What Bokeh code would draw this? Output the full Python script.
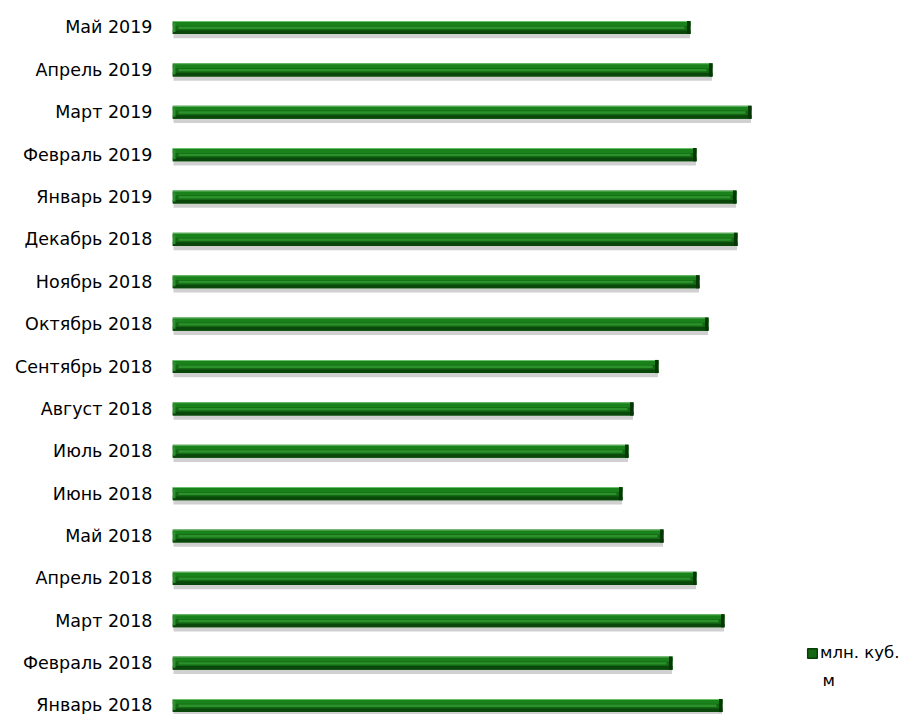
from bokeh.plotting import figure
from bokeh.models import Legend, LegendItem, FixedTicker, Range1d, Label
from bokeh.embed import file_html
from bokeh.resources import INLINE

months = ["Январь 2018", "Февраль 2018", "Март 2018", "Апрель 2018", "Май 2018",
          "Июнь 2018", "Июль 2018", "Август 2018", "Сентябрь 2018", "Октябрь 2018",
          "Ноябрь 2018", "Декабрь 2018", "Январь 2019", "Февраль 2019", "Март 2019",
          "Апрель 2019", "Май 2019"]
values = [55.0, 50.0, 55.2, 52.4, 49.1, 45.0, 45.6, 46.1, 48.6, 53.6,
          52.7, 56.5, 56.4, 52.4, 57.9, 54.0, 51.8]
series_line1 = "млн. куб."
series_line2 = "м"

pos = list(range(len(months)))

p = figure(width=900, height=714, output_backend="svg", toolbar_location=None,
           x_range=Range1d(0, 72.8), y_range=Range1d(-0.212, 16.637),
           min_border_left=172, min_border_right=0, min_border_top=0, min_border_bottom=0)
p.outline_line_color = None
p.xgrid.visible = False
p.ygrid.visible = False
p.xaxis.visible = False

h = 0.31
# shadow
p.hbar(y=[y - 0.1 for y in pos], left=0.1, right=[v - 0.05 for v in values], height=h,
       fill_color="#8a8a8a", fill_alpha=0.4, line_color=None)
# base
base = p.hbar(y=pos, left=0, right=values, height=h, fill_color="#146814", line_color=None)
# lower dark edge
p.hbar(y=[y - h * 0.36 for y in pos], left=0, right=values, height=h * 0.28,
       fill_color="#0a470a", line_color=None)
# upper bright band
p.hbar(y=[y + h * 0.28 for y in pos], left=0, right=values, height=h * 0.3,
       fill_color="#1a821a", line_color=None)
# middle highlight stripe
p.hbar(y=[y - h * 0.02 for y in pos], left=0.6, right=[v - 0.6 for v in values], height=h * 0.18,
       fill_color="#2b922b", line_color=None)
# top thin light edge
p.hbar(y=[y + h * 0.46 for y in pos], left=0, right=values, height=h * 0.08,
       fill_color="#6cbf6c", line_color=None)
# right bevel end
p.hbar(y=pos, left=[v - 0.35 for v in values], right=values, height=h,
       fill_color="#053805", line_color=None)
# left bevel end
p.hbar(y=pos, left=0, right=0.3, height=h * 0.7,
       fill_color="#2f8f2f", line_color=None)

p.yaxis.ticker = FixedTicker(ticks=pos)
p.yaxis.major_label_overrides = {i: m for i, m in zip(pos, months)}
p.yaxis.axis_line_color = None
p.yaxis.major_tick_line_color = None
p.yaxis.minor_tick_line_color = None
p.yaxis.major_label_standoff = 14
p.yaxis.major_label_text_font = "DejaVu Sans"
p.yaxis.major_label_text_font_size = "17.5px"
p.yaxis.major_label_text_color = "#000000"

legend_glyph = p.quad(left=[0], right=[0], bottom=[0], top=[0], fill_color="#146814",
                      line_color="#063f06", line_width=1.5, visible=False)
legend = Legend(items=[LegendItem(label=series_line1, renderers=[legend_glyph])],
                location=(634, 52), border_line_color=None, background_fill_alpha=0,
                padding=0, margin=0, glyph_width=12, glyph_height=12, label_standoff=2,
                label_text_font="DejaVu Sans", label_text_font_size="16.5px",
                label_text_color="#000000")
p.add_layout(legend)
p.add_layout(Label(x=65.0, y=0.59, text=series_line2, text_font="DejaVu Sans",
                   text_font_size="16.5px", text_color="#000000", text_baseline="middle"))

open("out.html", "w").write(file_html(p, INLINE))
